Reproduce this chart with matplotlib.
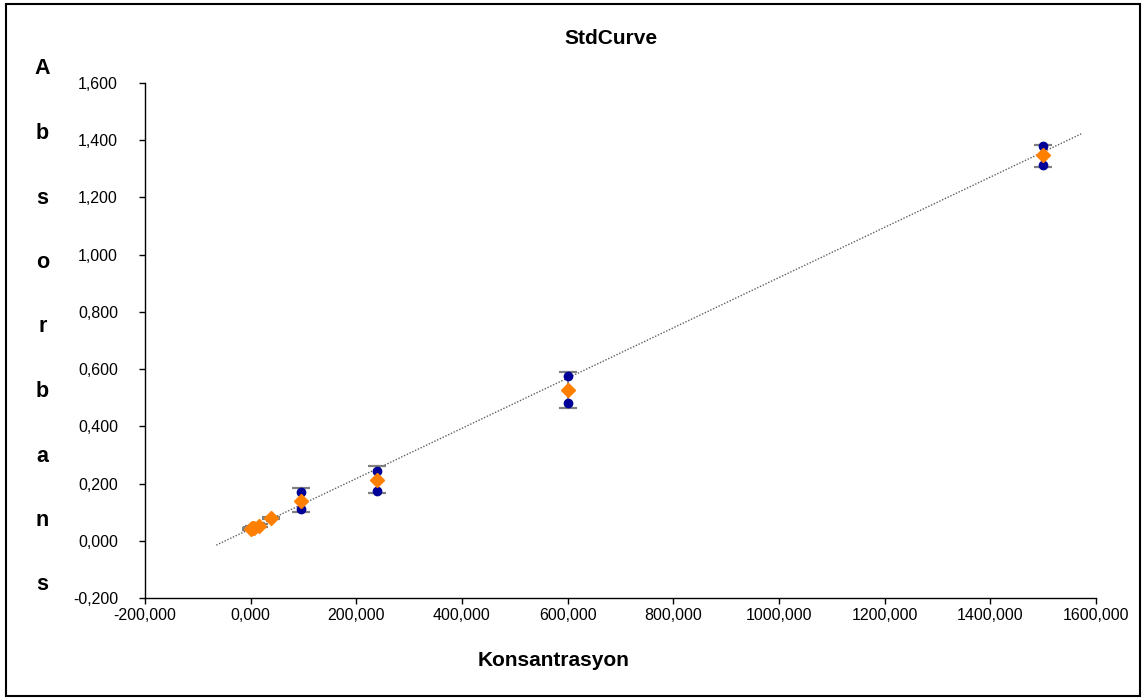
import numpy as np
import matplotlib
matplotlib.use("Agg")
import matplotlib.pyplot as plt
from matplotlib.patches import Rectangle
from matplotlib.ticker import FuncFormatter

plt.rcParams['font.family'] = ['Liberation Sans', 'DejaVu Sans']

# standard concentrations (dilution series)
conc = [0.0, 2.46, 6.14, 15.36, 38.4, 96.0, 240.0, 600.0, 1500.0]
# replicate absorbances
rep1 = [0.041, 0.042, 0.045, 0.051, 0.079, 0.172, 0.244, 0.576, 1.380]
rep2 = [0.043, 0.044, 0.047, 0.053, 0.081, 0.111, 0.174, 0.482, 1.315]
mean_abs = [0.042, 0.043, 0.046, 0.052, 0.080, 0.139, 0.214, 0.527, 1.347]
err_lo = [0.038, 0.039, 0.042, 0.047, 0.076, 0.100, 0.167, 0.464, 1.305]
err_hi = [0.046, 0.047, 0.050, 0.057, 0.084, 0.184, 0.260, 0.590, 1.385]
# linear trend line
trend_slope = 0.000878
trend_icpt = 0.042
trend_range = [-65, 1575]

x_ticks = np.arange(-200, 1601, 200)
y_ticks = np.arange(-0.2, 1.61, 0.2)

fig = plt.figure(figsize=(11.47, 7.0), dpi=100)
ax = fig.add_axes([0.1264, 0.1457, 0.8291, 0.7357])

tx = np.array(trend_range)
ax.plot(tx, trend_slope * tx + trend_icpt, color='#606060', lw=1.0,
        linestyle=(0, (1, 1.2)), zorder=1)

mean_arr = np.array(mean_abs)
yerr = [mean_arr - np.array(err_lo), np.array(err_hi) - mean_arr]
ax.errorbar(conc, mean_abs, yerr=yerr, fmt='none', ecolor='#808080',
            elinewidth=1.3, capsize=6.5, capthick=1.6, zorder=2)
ax.plot(conc, rep1, 'o', color='#000099', ms=6, zorder=3)
ax.plot(conc, rep2, 'o', color='#000099', ms=6, zorder=3)
ax.plot(conc, mean_abs, 'D', color='#FF8000', ms=7, mec='#FF8000', zorder=4)

ax.set_xlim(-200, 1600)
ax.set_ylim(-0.2, 1.6)
ax.set_xticks(x_ticks)
ax.set_yticks(y_ticks)
ax.xaxis.set_major_formatter(FuncFormatter(lambda v, p: f"{v:.3f}".replace('.', ',')))
ax.yaxis.set_major_formatter(FuncFormatter(lambda v, p: f"{v:.3f}".replace('.', ',').replace('-0,000', '0,000')))
ax.tick_params(direction='out', length=4.5, width=1, labelsize=11.5, pad=3)
ax.tick_params(axis='y', pad=15)
for s in ['top', 'right']:
    ax.spines[s].set_visible(False)
for s in ['left', 'bottom']:
    ax.spines[s].set_linewidth(1)

fig.text(0.5327, 0.9457, 'StdCurve', ha='center', va='center',
         fontsize=15, fontweight='bold')
fig.text(0.483, 0.057, 'Konsantrasyon', ha='center', va='center',
         fontsize=15, fontweight='bold')
for i, ch in enumerate('Absorbans'):
    fig.text(0.037, 1 - (69 + i * 64.5) / 700, ch, ha='center', va='center',
             fontsize=15.5, fontweight='bold')

fig.patches.append(Rectangle((0.005, 0.006), 0.989, 0.988, transform=fig.transFigure,
                             fill=False, edgecolor='black', lw=1.5))

fig.savefig('out.png', dpi=100)
